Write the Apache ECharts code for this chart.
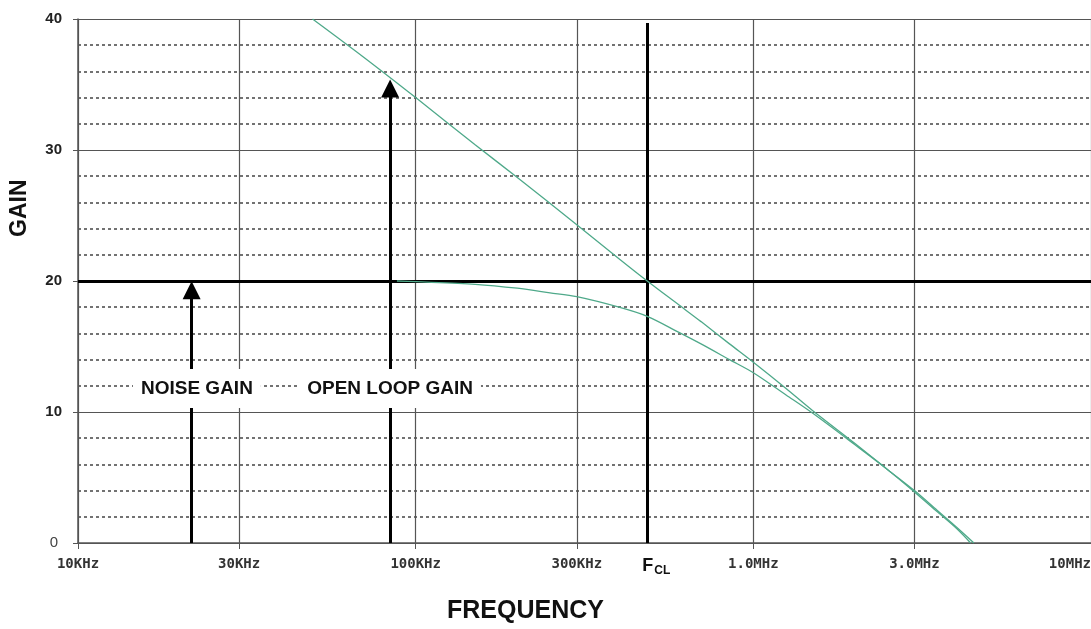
<!DOCTYPE html>
<html>
<head>
<meta charset="utf-8">
<script src="https://cdn.jsdelivr.net/npm/echarts@6/dist/echarts.min.js"></script>
<style>
  html, body { margin: 0; padding: 0; background: #fff; }
  #chart { width: 1091px; height: 629px; }
</style>
</head>
<body>
<div id="chart"></div>
<script>
// axis ticks
const tickFreqs = [1e4, 3e4, 1e5, 3e5, 1e6, 3e6, 1e7];
const tickLabels = ['10KHz', '30KHz', '100KHz', '300KHz', '1.0MHz', '3.0MHz', '10MHz'];

// open loop gain curve
const openLoopFreq = [49.5e3, 70e3, 100e3, 150e3, 200e3, 300e3, 400e3, 485e3, 600e3, 700e3, 850e3, 1e6, 1.25e6, 1.5e6, 2e6, 2.5e6, 3e6, 3.5e6, 4e6, 4.5e6];
const openLoopGain = [40, 37.1, 34, 30.4, 27.9, 24.3, 21.7, 20, 18.2, 16.9, 15.2, 13.8, 11.8, 10.1, 7.6, 5.6, 4.0, 2.5, 1.2, 0];

// noise gain (closed loop) curve
const noiseFreq = [88e3, 100e3, 150e3, 200e3, 250e3, 300e3, 400e3, 485e3, 600e3, 700e3, 850e3, 1e6, 1.25e6, 1.5e6, 2e6, 2.5e6, 3e6, 3.5e6, 4e6, 4.4e6];
const noiseGain = [20, 19.95, 19.75, 19.45, 19.1, 18.8, 18.0, 17.3, 16.1, 15.2, 14.0, 13.0, 11.3, 9.9, 7.5, 5.6, 3.9, 2.4, 1.1, 0];

// annotations
const fcl = 485e3;
const noiseLevel = 20;
const noiseArrowFreq = 21.7e3;
const openArrowFreq = 84e3;
const openArrowTop = 35.4;
const labelLevel = 11.8;

const pair = (xs, ys) => xs.map((x, i) => [x, ys[i]]);

const chart = echarts.init(document.getElementById('chart'));

const curveColor = '#4fa98a';
const boldLine = { color: '#000', width: 3, type: 'solid' };
const titleFont = { fontFamily: 'Liberation Sans', fontWeight: 'bold', fontSize: 25, fill: '#111' };

chart.setOption({
  animation: false,
  grid: { left: 78, right: 0, top: 19, bottom: 86, outerBoundsMode: 'none' },
  graphic: [
    { type: 'text', left: 447, top: 599, style: Object.assign({ text: 'FREQUENCY' }, titleFont) },
    { type: 'text', x: 8, y: 237, rotation: Math.PI / 2,
      style: Object.assign({ text: 'GAIN' }, titleFont, { fontSize: 23 }) }
  ],
  xAxis: {
    type: 'log',
    logBase: 10,
    min: 1e4,
    max: 1e7,
    axisLine: { show: true, lineStyle: { color: '#555', width: 1.5 } },
    axisTick: { show: true, length: 6, customValues: tickFreqs, lineStyle: { color: '#555' } },
    axisLabel: {
      customValues: tickFreqs,
      alignMaxLabel: 'right',
      margin: 14,
      fontFamily: 'DejaVu Sans Mono',
      fontWeight: 'bold',
      fontSize: 14,
      color: '#333',
      formatter: v => {
        const i = tickFreqs.findIndex(t => Math.abs(t - v) / t < 1e-6);
        return i >= 0 ? tickLabels[i] : '';
      }
    },
    splitLine: { show: true, lineStyle: { color: '#555', width: 1.2 } },
    minorSplitLine: { show: false }
  },
  yAxis: {
    type: 'value',
    min: 0,
    max: 40,
    interval: 10,
    axisLine: { show: true, lineStyle: { color: '#555', width: 1.5 } },
    axisTick: { show: true, length: 5, lineStyle: { color: '#555' } },
    axisLabel: {
      margin: 16,
      fontFamily: 'Liberation Sans',
      fontWeight: 'bold',
      fontSize: 15,
      color: '#222',
      formatter: v => v === 0 ? '{z|0}' : String(v),
      rich: { z: { fontFamily: 'Liberation Sans', fontWeight: 'normal', fontSize: 15, color: '#444', padding: [0, 4, 0, 0] } }
    },
    splitLine: { show: true, lineStyle: { color: '#555', width: 1.2 } },
    minorTick: { show: false, splitNumber: 5 },
    minorSplitLine: { show: true, lineStyle: { color: '#444', width: 1.5, type: [3, 3] } }
  },
  series: [
    {
      name: 'Open loop gain',
      type: 'line',
      data: pair(openLoopFreq, openLoopGain),
      smooth: 0.3,
      showSymbol: false,
      lineStyle: { color: curveColor, width: 1.3 },
      z: 5,
      markLine: {
        silent: true,
        symbol: 'none',
        animation: false,
        label: { show: false },
        data: [
          { yAxis: noiseLevel, lineStyle: boldLine },
          [
            { coord: [fcl, 0], symbol: 'none',
              label: {
                show: true, position: 'start', distance: 12,
                formatter: '{f|F}{s|CL}',
                rich: {
                  f: { fontFamily: 'Liberation Sans', fontWeight: 'bold', fontSize: 18, color: '#111', padding: [0, 0, 0, 18] },
                  s: { fontFamily: 'Liberation Sans', fontWeight: 'bold', fontSize: 12, color: '#111', padding: [10, 0, 0, 1] }
                }
              },
              lineStyle: boldLine },
            { coord: [fcl, 39.7], symbol: 'none' }
          ],
          [
            { coord: [noiseArrowFreq, 0], symbol: 'none', lineStyle: boldLine },
            { coord: [noiseArrowFreq, noiseLevel - 0.7], symbol: 'triangle', symbolSize: 18 }
          ],
          [
            { coord: [openArrowFreq, 0], symbol: 'none', lineStyle: boldLine },
            { coord: [openArrowFreq, openArrowTop - 0.7], symbol: 'triangle', symbolSize: 18 }
          ]
        ],
        itemStyle: { color: '#000' }
      },
      markPoint: {
        silent: true,
        symbol: 'rect',
        symbolSize: 0,
        z: 20,
        label: {
          show: true,
          position: 'inside',
          fontFamily: 'Liberation Sans',
          fontWeight: 'bold',
          fontSize: 19,
          color: '#111',
          backgroundColor: '#fff',
          padding: [10, 8]
        },
        data: [
          { coord: [22.5e3, labelLevel], value: 'NOISE GAIN', label: { formatter: 'NOISE GAIN' } },
          { coord: [openArrowFreq, labelLevel], value: 'OPEN LOOP GAIN', label: { formatter: 'OPEN LOOP GAIN' } }
        ]
      }
    },
    {
      name: 'Noise gain',
      type: 'line',
      data: pair(noiseFreq, noiseGain),
      smooth: 0.3,
      showSymbol: false,
      lineStyle: { color: curveColor, width: 1.3 },
      z: 5
    }
  ]
});
</script>
</body>
</html>
